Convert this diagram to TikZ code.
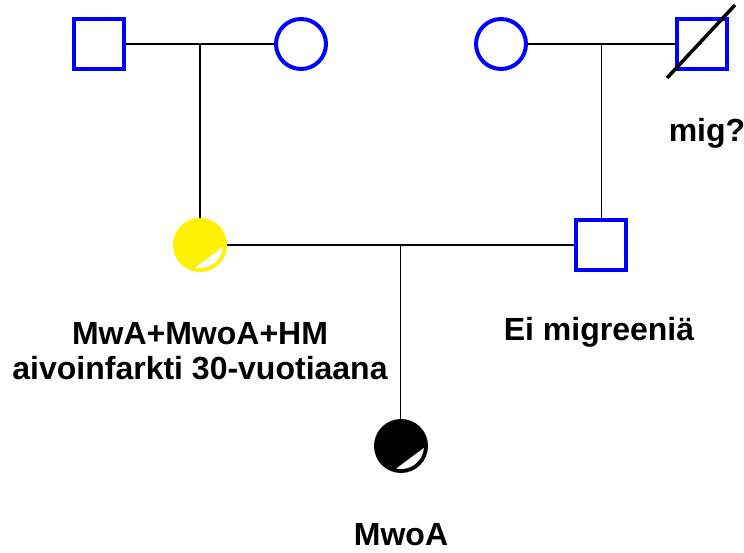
\documentclass[tikz,border=0pt]{standalone}
\usepackage{fontspec}
\setmainfont{Liberation Sans}
\begin{document}
\begin{tikzpicture}[x=1pt, y=1pt,
        male/.style = {draw=blue, line width=4pt, minimum size=50pt, inner sep=0pt},
        female/.style = {circle, draw=blue, line width=4pt, minimum size=50pt, inner sep=0pt},
        affected/.style = {circle, minimum size=54pt, inner sep=0pt},
        tie/.style = {line width=1.6pt},
        lbl/.style = {font=\bfseries\fontsize{32}{35}\selectfont, align=center}]
    \useasboundingbox (0,0) rectangle (744,553);

    % grandparents
    \node[male]   (gf1) at (99,509)  {};
    \node[female] (gm1) at (301,509) {};
    \node[female] (gm2) at (501,509) {};
    \node[male]   (gf2) at (702,509) {};

    % parents and child
    \node[affected, fill=yellow] (mother) at (200,308) {};
    \node[male]                  (father) at (601,308) {};
    \node[affected, fill=black]  (child)  at (401,107) {};

    % white wedge in the filled circles
    \fill[white] ([shift={(258:23)}]mother.center) arc[start angle=258, end angle=355, radius=23] -- cycle;
    \fill[white] ([shift={(258:23)}]child.center) arc[start angle=258, end angle=355, radius=23] -- cycle;

    % deceased
    \draw[line width=3.5pt] ([shift={(-35,-34)}]gf2.center) -- ([shift={(33,39)}]gf2.center);

    % marriages and descent
    \draw[tie] (gf1) -- coordinate (m1) (gm1);
    \draw[tie] (gm2) -- coordinate (m2) (gf2);
    \draw[tie] (mother) -- coordinate (m3) (father);
    \draw[tie] (m1) -- (m1 |- mother.north);
    \draw[tie] (m2) -- (m2 |- father.north);
    \draw[tie] (m3) -- (m3 |- child.north);

    \node[lbl] (mig)    at (707,420)   {mig?};
    \node[lbl] (mlbl)   at (200,202)   {MwA+MwoA+HM\\aivoinfarkti 30-vuotiaana};
    \node[lbl] (flbl)   at (599,221)   {Ei migreeniä};
    \node[lbl] (clbl)   at (401,18)    {MwoA};
\end{tikzpicture}
\end{document}
